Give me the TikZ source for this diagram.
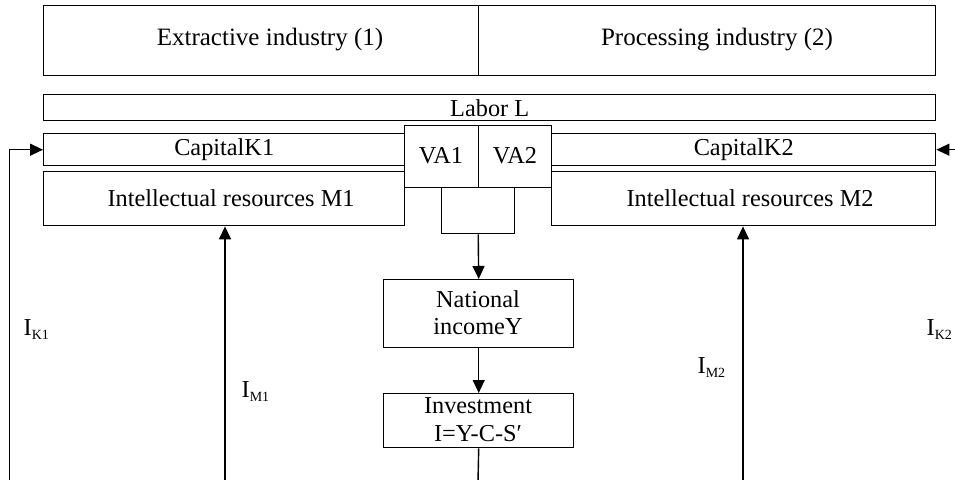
\documentclass[tikz,border=0pt]{standalone}
\usepackage{fontspec}
\setmainfont{Liberation Serif}
\usetikzlibrary{arrows.meta}

\newcommand{\bodysize}{\fontsize{24.3}{27}\selectfont}
\newcommand{\topsize}{\fontsize{25}{28}\selectfont}
\newcommand{\subsize}{\fontsize{14}{14}\selectfont}
% investment label: I with a lowered subscript
\newcommand{\invlabel}[1]{I{\subsize\raisebox{-4pt}{#1}}}

\begin{document}
\begin{tikzpicture}[x=1pt,y=-1pt,
  line width=1.4pt,
  box/.style={draw, rectangle, inner sep=0pt, anchor=north west, font=\bodysize},
  lbl/.style={inner sep=0pt, font=\bodysize},
  flow/.style={-{Triangle[length=13pt,width=12pt]}},
  invest/.style={inner sep=0pt, anchor=base west, font=\bodysize}]

\useasboundingbox (0,0) rectangle (955,479);

% sectors
\node[box, minimum width=435, minimum height=70] (ext) at (43,5) {};
\node[box, minimum width=457, minimum height=70] (proc) at (478,5) {};
\node[lbl, font=\topsize] (extT) at (270,40) {Extractive industry (1)};
\node[lbl, font=\topsize] (procT) at (717,40) {Processing industry (2)};

% labor
\node[box, minimum width=892, minimum height=26] (labor) at (43,94) {};
\node[lbl] (laborT) at (labor.center) {Labor L};

% capital and intellectual resources
\node[box, minimum width=361, minimum height=32] (capA) at (43,133) {};
\node[lbl] (capAT) at (capA.center) {CapitalK1};
\node[box, minimum width=384, minimum height=32] (capB) at (551,133) {};
\node[lbl] (capBT) at (capB.center) {CapitalK2};
\node[box, minimum width=361, minimum height=54] (resA) at (43,171) {};
\node[lbl] (resAT) at (231,198) {Intellectual resources M1};
\node[box, minimum width=384, minimum height=54] (resB) at (551,171) {};
\node[lbl] (resBT) at (750,198) {Intellectual resources M2};

% value added
\node[box, minimum width=74, minimum height=62] (vaA) at (404,125) {};
\node[lbl] (vaAT) at (441,156) {VA1};
\node[box, minimum width=73, minimum height=62] (vaB) at (478,125) {};
\node[lbl] (vaBT) at (515,156) {VA2};
\node[box, minimum width=73, minimum height=46] (sum) at (441,187) {};

% national income and investment
\node[box, minimum width=190, minimum height=68, align=center] (nat) at (383,279) {};
\node[lbl, align=center] (natT) at (478,313) {National\\incomeY};
\node[box, minimum width=190, minimum height=54] (inv) at (383,393) {};
\node[lbl, align=center, font=\fontsize{24.3}{28}\selectfont] (invT) at (478,420) {Investment\\I=Y-C-S′};

% loose ends of the feedback lines
\coordinate (kA) at (9.5,482);
\coordinate (mA) at (225,482);
\coordinate (mB) at (743,482);
\coordinate (kB) at (962,482);
\coordinate (invEnd) at (478,482);

% connectors
\draw[flow] (sum.south) -- (nat.north);
\draw[flow] (nat.south) -- (inv.north);
\draw (inv.south) -- (invEnd);
\draw[flow] (kA) |- (capA.west);
\draw[flow] (kB) |- (capB.east);
\draw[flow] (mA) -- (mA |- resA.south);
\draw[flow] (mB) -- (mB |- resB.south);

% flow labels
\node[invest] (ikA) at (23,335) {\invlabel{K1}};
\node[invest] (imA) at (241,397) {\invlabel{M1}};
\node[invest] (imB) at (697,373) {\invlabel{M2}};
\node[invest] (ikB) at (926,335) {\invlabel{K2}};
\end{tikzpicture}
\end{document}
